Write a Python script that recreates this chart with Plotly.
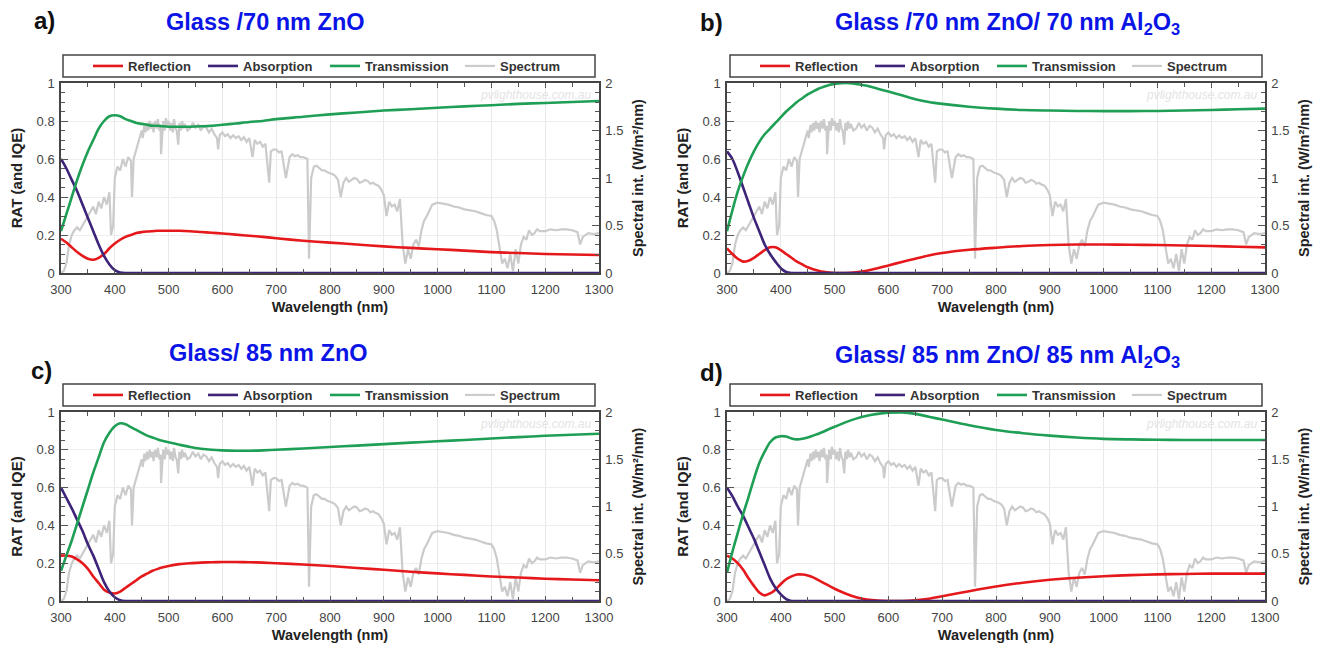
import plotly.graph_objects as go

# ---------------- data ----------------
spec_wl = [300, 305, 310, 315, 320, 325, 330, 335, 340, 345, 350, 355, 360, 365, 370, 375, 380, 385, 390, 393, 397,
           400, 405, 410, 415, 420, 425, 430, 432, 435, 440, 445, 450, 452, 455, 457, 460, 462, 465, 467, 470, 472,
           475, 478, 480, 483, 485, 486, 490, 493, 495, 498, 500, 503, 505, 508, 510, 513, 515, 518, 520, 523, 525,
           528, 530, 535, 540, 545, 550, 555, 560, 565, 570, 575, 580, 585, 590, 592, 595, 600, 605, 610, 615, 620,
           625, 630, 635, 640, 645, 650, 656, 660, 665, 670, 675, 680, 687, 690, 695, 700, 705, 710, 718, 725, 730,
           735, 740, 745, 750, 758, 761, 765, 770, 775, 780, 785, 790, 795, 800, 805, 810, 815, 820, 825, 830, 835,
           840, 845, 850, 855, 860, 865, 870, 875, 880, 885, 890, 895, 900, 905, 910, 915, 920, 925, 930, 935, 940,
           945, 950, 955, 960, 965, 970, 975, 980, 985, 990, 1000, 1010, 1020, 1030, 1040, 1050, 1060, 1070, 1080,
           1090, 1100, 1105, 1110, 1115, 1120, 1125, 1130, 1135, 1140, 1145, 1150, 1155, 1160, 1165, 1170, 1175,
           1180, 1185, 1190, 1200, 1210, 1220, 1230, 1240, 1250, 1260, 1265, 1270, 1280, 1290, 1300]
spectrum = [0.0, 0.02, 0.1, 0.3, 0.4, 0.45, 0.48, 0.45, 0.5, 0.55, 0.6, 0.65, 0.7, 0.62, 0.75, 0.68, 0.8, 0.72, 0.85, 0.4, 0.5,
            1.0, 1.12, 1.08, 1.2, 1.12, 1.22, 1.18, 0.8, 1.2, 1.3, 1.38, 1.5, 1.42, 1.56, 1.48, 1.58, 1.5, 1.6, 1.52, 1.58, 1.48,
            1.6, 1.52, 1.62, 1.5, 1.55, 1.25, 1.6, 1.5, 1.63, 1.55, 1.6, 1.5, 1.58, 1.48, 1.62, 1.52, 1.5, 1.35, 1.58, 1.5, 1.6,
            1.52, 1.57, 1.5, 1.52, 1.58, 1.53, 1.56, 1.5, 1.55, 1.53, 1.48, 1.52, 1.46, 1.42, 1.3, 1.45, 1.48, 1.44, 1.46, 1.42, 1.45,
            1.42, 1.44, 1.4, 1.43, 1.38, 1.42, 1.22, 1.4, 1.36, 1.38, 1.33, 1.36, 0.95, 1.28, 1.3, 1.3, 1.27, 1.28, 1.0, 1.22, 1.25,
            1.23, 1.24, 1.22, 1.22, 1.2, 0.15, 1.0, 1.12, 1.13, 1.1, 1.08, 1.08, 1.06, 1.05, 1.04, 1.02, 0.98, 0.8, 0.95, 1.0, 0.96,
            0.98, 1.0, 0.99, 0.95, 0.96, 0.98, 0.97, 0.94, 0.95, 0.93, 0.92, 0.88, 0.82, 0.6, 0.75, 0.7, 0.72, 0.65, 0.78, 0.3, 0.1,
            0.25, 0.15, 0.3, 0.35, 0.28, 0.45, 0.55, 0.6, 0.66, 0.72, 0.74, 0.73, 0.72, 0.7, 0.69, 0.67, 0.66, 0.65, 0.63,
            0.61, 0.6, 0.55, 0.45, 0.25, 0.1, 0.15, 0.05, 0.2, 0.02, 0.25, 0.1, 0.3, 0.38, 0.35, 0.45, 0.4,
            0.42, 0.46, 0.44, 0.44, 0.46, 0.45, 0.46, 0.46, 0.45, 0.43, 0.3, 0.38, 0.42, 0.41, 0.42]

wl = [300, 310, 320, 330, 340, 350, 360, 370, 380, 390, 400, 410, 420, 430, 440, 450, 460, 470, 480, 490, 500,
      520, 540, 560, 580, 600, 625, 650, 675, 700, 750, 800, 850, 900, 950, 1000, 1050, 1100, 1150, 1200, 1250, 1300]

trans_a = [.22, .31, .40, .49, .57, .64, .70, .76, .80, .825, .83, .825, .81, .80, .79, .785, .78, .775, .775, .772, .77,
           .77, .77, .772, .775, .78, .787, .795, .80, .81, .822, .835, .845, .855, .862, .87, .877, .883, .89, .895, .90, .905]
refl_a = [.18, .16, .135, .11, .09, .075, .07, .08, .10, .13, .155, .175, .19, .20, .21, .215, .218, .22, .222, .222, .222,
          .222, .22, .216, .212, .208, .202, .196, .19, .183, .17, .16, .15, .14, .132, .125, .118, .11, .105, .10, .097, .095]
abs_a = [.60, .55, .49, .43, .36, .29, .22, .15, .09, .045, .015, .003, 0, 0, 0, 0, 0, 0, 0, 0, 0,
         0, 0, 0, 0, 0, 0, 0, 0, 0, 0, 0, 0, 0, 0, 0, 0, 0, 0, 0, 0, 0]

trans_b = [.22, .33, .43, .51, .58, .64, .69, .73, .76, .79, .82, .85, .875, .90, .92, .94, .955, .97, .98, .99, .995,
           1.0, .995, .985, .97, .955, .935, .915, .90, .89, .875, .865, .858, .855, .853, .852, .852, .853, .855, .858, .862, .865]
refl_b = [.13, .10, .075, .06, .065, .08, .10, .12, .135, .135, .12, .10, .08, .06, .045, .03, .02, .012, .006, .002, 0,
          0, .004, .012, .025, .04, .058, .075, .092, .105, .122, .133, .142, .147, .15, .15, .149, .147, .145, .142, .138, .135]
abs_b = [.64, .60, .53, .45, .37, .29, .22, .15, .10, .06, .025, .005, 0, 0, 0, 0, 0, 0, 0, 0, 0,
         0, 0, 0, 0, 0, 0, 0, 0, 0, 0, 0, 0, 0, 0, 0, 0, 0, 0, 0, 0, 0]

trans_c = [.16, .24, .32, .41, .50, .59, .68, .76, .84, .89, .925, .94, .935, .92, .905, .89, .875, .865, .855, .847, .84,
           .827, .815, .806, .80, .797, .795, .795, .797, .80, .807, .815, .822, .83, .838, .845, .852, .86, .867, .874, .88, .885]
refl_c = [.24, .24, .235, .22, .20, .17, .13, .095, .06, .045, .04, .05, .07, .09, .11, .13, .145, .16, .17, .178, .185,
          .195, .20, .203, .205, .206, .206, .205, .203, .20, .193, .185, .175, .165, .155, .146, .138, .13, .124, .118, .114, .11]
abs_c = [.60, .545, .49, .43, .37, .30, .24, .17, .10, .05, .02, .004, 0, 0, 0, 0, 0, 0, 0, 0, 0,
         0, 0, 0, 0, 0, 0, 0, 0, 0, 0, 0, 0, 0, 0, 0, 0, 0, 0, 0, 0, 0]

trans_d = [.15, .26, .36, .46, .55, .645, .73, .79, .84, .865, .872, .87, .86, .855, .858, .865, .875, .885, .897, .91, .922,
           .945, .965, .98, .99, .996, .998, .99, .975, .96, .93, .905, .888, .875, .865, .858, .855, .853, .852, .852, .852, .852]
refl_d = [.24, .225, .20, .165, .12, .08, .045, .03, .04, .06, .09, .115, .13, .14, .14, .135, .125, .11, .095, .08, .065,
          .04, .02, .008, .002, 0, 0, .004, .012, .025, .052, .077, .097, .112, .123, .131, .137, .141, .143, .145, .145, .145]
abs_d = [.60, .555, .50, .45, .39, .33, .26, .19, .12, .07, .035, .01, 0, 0, 0, 0, 0, 0, 0, 0, 0,
         0, 0, 0, 0, 0, 0, 0, 0, 0, 0, 0, 0, 0, 0, 0, 0, 0, 0, 0, 0, 0]

titles = ["Glass /70 nm ZnO", "Glass /70 nm ZnO/ 70 nm Al<sub>2</sub>O<sub>3</sub>",
          "Glass/ 85 nm ZnO", "Glass/ 85 nm ZnO/ 85 nm Al<sub>2</sub>O<sub>3</sub>"]
letters = ["a)", "b)", "c)", "d)"]
series_names = ["Reflection", "Absorption", "Transmission", "Spectrum"]
x_ticks = [300, 400, 500, 600, 700, 800, 900, 1000, 1100, 1200, 1300]

panels = [(refl_a, abs_a, trans_a), (refl_b, abs_b, trans_b), (refl_c, abs_c, trans_c), (refl_d, abs_d, trans_d)]

# ---------------- layout geometry ----------------
W, H = 1325, 651
FONT = "Liberation Sans, Arial, sans-serif"
COLORS = {"Reflection": "#e5191c", "Absorption": "#3d2479", "Transmission": "#1f9f55", "Spectrum": "#cbcbcb"}
LEG_W = {"Reflection": 70, "Absorption": 77, "Transmission": 90, "Spectrum": 62}

# pixel boxes: (left, right, top, bottom)
plot_px = [(61, 599, 83, 273), (727, 1265, 83, 273), (61, 599, 412, 601), (727, 1265, 412, 601)]
legend_px = [(63, 595, 55, 77), (730, 1262, 55, 77), (63, 595, 384, 406), (730, 1262, 384, 406)]
title_px = [(265, 22), (1007, 24), (268, 353), (1007, 356)]
letter_px = [(44, 20), (711, 22), (42, 370), (711, 372)]


def px_x(v):
    return v / W


def px_y(v):
    return 1 - v / H


fig = go.Figure()
layout = dict(width=W, height=H, margin=dict(l=0, r=0, t=0, b=0, autoexpand=False), paper_bgcolor="white",
              plot_bgcolor="white", font=dict(family=FONT, color="#333"), annotations=[], shapes=[])

for i, (refl, absn, trans) in enumerate(panels):
    xname = "x" if i == 0 else f"x{i + 1}"
    yb = 2 * i + 1          # base (right, spectrum)
    yo = 2 * i + 2          # overlay (left, RAT)
    ybname = "y" if yb == 1 else f"y{yb}"
    yoname = f"y{yo}"
    lgname = "legend" if i == 0 else f"legend{i + 1}"
    l, r, t, b = plot_px[i]

    for name, vals in zip(series_names[:3], [refl, absn, trans]):
        fig.add_trace(go.Scatter(x=wl, y=vals, name=name, mode="lines",
                                 line=dict(color=COLORS[name], width=2.6, shape="spline", smoothing=0.8),
                                 xaxis=xname, yaxis=yoname, legend=lgname, legendwidth=LEG_W[name], hoverinfo="skip"))
    fig.add_trace(go.Scatter(x=spec_wl, y=spectrum, name="Spectrum", mode="lines",
                             line=dict(color=COLORS["Spectrum"], width=2.2),
                             xaxis=xname, yaxis=ybname, legend=lgname, legendwidth=LEG_W["Spectrum"], hoverinfo="skip"))

    axkey = "xaxis" if i == 0 else f"xaxis{i + 1}"
    layout[axkey] = dict(domain=[px_x(l), px_x(r)], anchor=ybname, range=[300, 1300], tickvals=x_ticks, automargin=False,
                         ticks="inside", ticklen=5, tickcolor="#555", showline=True, linecolor="#444", linewidth=1.5,
                         mirror="ticks", showgrid=True, gridcolor="#e9e9e9", gridwidth=1, zeroline=False,
                         minor=dict(dtick=50, tick0=300, ticks="inside", ticklen=4, tickcolor="#555", showgrid=False),
                         tickfont=dict(size=13, color="#444"), ticklabelstandoff=4,
                         title=dict(text="<b>Wavelength (nm)</b>", font=dict(size=14.5, color="#222"), standoff=6))
    ybkey = "yaxis" if yb == 1 else f"yaxis{yb}"
    layout[ybkey] = dict(domain=[px_y(b), px_y(t)], anchor=xname, side="right", range=[0, 2], dtick=0.5, tick0=0,
                         automargin=False,
                         ticks="inside", ticklen=7, tickcolor="#555", showline=True, linecolor="#444", linewidth=1.5,
                         showgrid=False, zeroline=False,
                         minor=dict(dtick=0.1, ticks="inside", ticklen=4, tickcolor="#555", showgrid=False),
                         tickfont=dict(size=13, color="#444"), ticklabelstandoff=2,
                         title=dict(text="<b>Spectral int. (W/m²/nm)</b>", font=dict(size=14.5, color="#222"), standoff=10))
    layout[f"yaxis{yo}"] = dict(overlaying=ybname, anchor=xname, side="left", range=[0, 1], dtick=0.2, tick0=0,
                                automargin=False,
                                ticks="inside", ticklen=7, tickcolor="#555", showline=True, linecolor="#444", linewidth=1.5,
                                showgrid=True, gridcolor="#eeeeee", zeroline=False,
                                minor=dict(dtick=0.05, ticks="inside", ticklen=4, tickcolor="#555", showgrid=False),
                                tickfont=dict(size=13, color="#444"), ticklabelstandoff=2,
                                title=dict(text="<b>RAT (and IQE)</b>", font=dict(size=15, color="#222"), standoff=10))

    ll, lr, lt, lb = legend_px[i]
    layout["shapes"].append(dict(type="rect", xref="paper", yref="paper", x0=px_x(ll), x1=px_x(lr), y0=px_y(lb), y1=px_y(lt),
                                 line=dict(color="#444", width=1.5), fillcolor="white", layer="below"))
    layout[lgname] = dict(orientation="h", x=px_x(ll + 25), y=px_y((lt + lb) / 2), xanchor="left", yanchor="middle",
                          bgcolor="rgba(0,0,0,0)", borderwidth=0, font=dict(size=13, color="#333", weight="bold"),
                          itemwidth=30, traceorder="normal")

    tx, ty = title_px[i]
    layout["annotations"].append(dict(text=f"<b>{titles[i]}</b>", x=px_x(tx), y=px_y(ty), xref="paper", yref="paper",
                                      showarrow=False, xanchor="center", yanchor="middle",
                                      font=dict(size=23.5, color="#0a14e6", family=FONT)))
    lx, ly = letter_px[i]
    layout["annotations"].append(dict(text=f"<b>{letters[i]}</b>", x=px_x(lx), y=px_y(ly), xref="paper", yref="paper",
                                      showarrow=False, xanchor="center", yanchor="middle",
                                      font=dict(size=24, color="#111", family=FONT)))
    layout["annotations"].append(dict(text="<i>pvlighthouse.com.au</i>", x=px_x(r - 6), y=px_y(t + 12), xref="paper", yref="paper",
                                      showarrow=False, xanchor="right", yanchor="middle",
                                      font=dict(size=12, color="#e4e4e4", family=FONT)))

fig.update_layout(**layout)
fig.write_html("out.html")
